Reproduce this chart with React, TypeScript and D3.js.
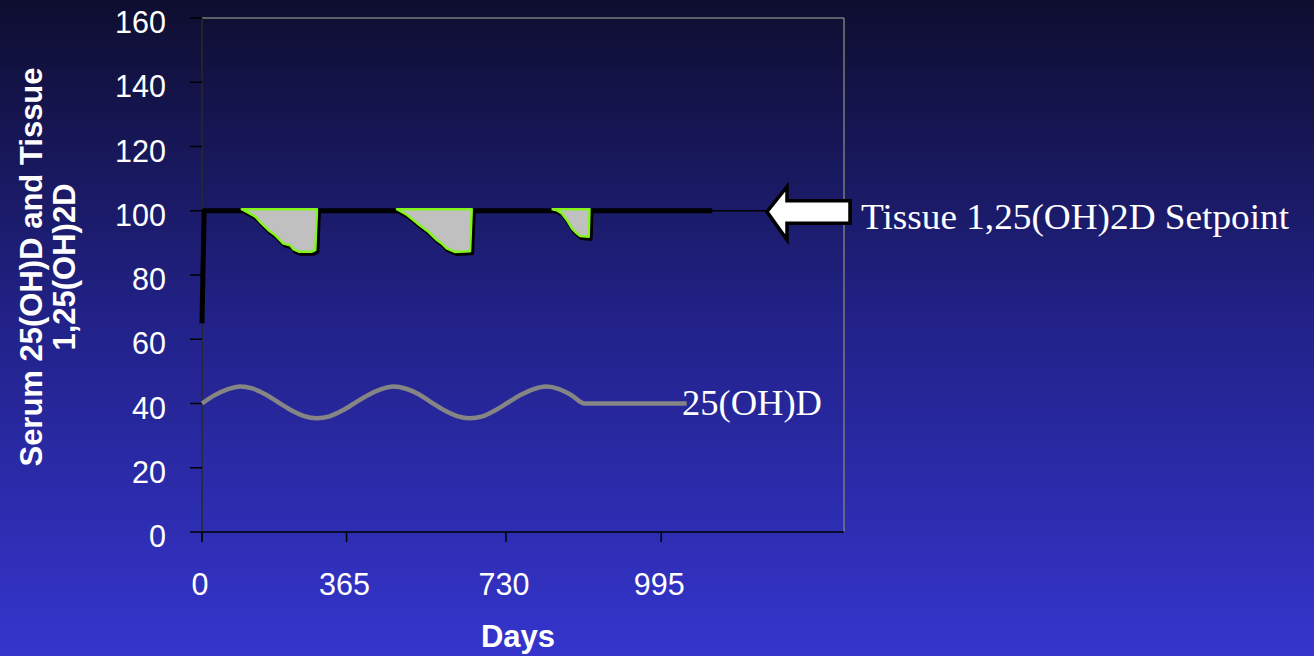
import React from "react";
import * as d3 from "d3";

// Time axis is measured in sampling steps; only some steps carry a day label.
const xTickSteps = [0, 34, 71.5, 108];
const xTickLabels = ["0", "365", "730", "995"];
const yTicks = [0, 20, 40, 60, 80, 100, 120, 140, 160];

// Serum 25(OH)D, seasonal swing then steady
const serumSteps = [0, 3, 6, 9, 12, 15, 18, 21, 24, 27, 30, 33, 36, 39, 42, 45, 48, 51, 54, 57, 60, 63, 66, 69, 72, 75, 78, 81, 84, 87, 90, 114];
const serumValues = [40.0, 42.6, 44.4, 45.3, 44.6, 42.8, 40.3, 37.9, 36.1, 35.4, 36.0, 37.8, 40.2, 42.6, 44.4, 45.3, 44.6, 42.9, 40.3, 37.9, 36.1, 35.4, 36.0, 37.9, 40.3, 42.7, 44.5, 45.3, 44.5, 42.5, 40.0, 40.0];

// Tissue 1,25(OH)2D deficits below the setpoint (step, value)
const dip1: [number, number][] = [
  [9.7, 100], [10.9, 99.2], [12.9, 97.7], [14.0, 96.1], [16.0, 93.5], [17.6, 91.9],
  [19.5, 89.3], [21.1, 88.8], [21.9, 87.5], [23.1, 86.8], [26.2, 86.8], [27.0, 87.3], [27.4, 100],
];
const dip2: [number, number][] = [
  [46.2, 100], [48.6, 98.2], [51.0, 95.6], [53.6, 93.0], [55.6, 90.4], [56.8, 89.3],
  [57.9, 87.8], [59.9, 86.7], [63.4, 86.9], [63.8, 100],
];
const dip3: [number, number][] = [
  [82.8, 100], [83.8, 99.7], [85.0, 98.7], [86.2, 96.6], [87.4, 94.0], [88.5, 92.5],
  [89.3, 91.7], [91.3, 91.4], [91.5, 100],
];
const tissueStart: [number, number][] = [[0, 65], [0.5, 100]];
const tissueEnd: [number, number][] = [[120, 100]];
const setpoint = 100;

const W = 1314;
const H = 656;
const plot = { left: 202, top: 18, right: 844, bottom: 532 };

export default function App() {
  const x = d3.scaleLinear().domain([0, 151]).range([plot.left, plot.right]);
  const y = d3.scaleLinear().domain([0, 160]).range([plot.bottom, plot.top]);

  const tissue = [...tissueStart, ...dip1, ...dip2, ...dip3, ...tissueEnd];
  const tissueLine = d3.line<[number, number]>().x((d) => x(d[0])).y((d) => y(d[1]))(tissue) || "";

  const serum = serumSteps.map((s, i) => [s, serumValues[i]] as [number, number]);
  const serumLine = d3
    .line<[number, number]>()
    .x((d) => x(d[0]))
    .y((d) => y(d[1]))
    .curve(d3.curveMonotoneX)(serum) || "";

  const deficitArea = d3
    .area<[number, number]>()
    .x((d) => x(d[0]))
    .y0(y(setpoint))
    .y1((d) => y(d[1]));

  const sy = y(setpoint);
  const tipX = 767;
  const arrow = [
    [tipX, sy + 1],
    [tipX + 20, sy - 24],
    [tipX + 20, sy - 10],
    [tipX + 83, sy - 10],
    [tipX + 83, sy + 12.5],
    [tipX + 20, sy + 12.5],
    [tipX + 20, sy + 29],
  ];

  const sans = "'Liberation Sans', Arial, sans-serif";
  const serif = "'Liberation Serif', 'Times New Roman', serif";

  return (
    <svg width={W} height={H} style={{ position: "absolute", left: 0, top: 0, display: "block" }}>
      <defs>
        <linearGradient id="bg" x1="0" y1="0" x2="0" y2="1">
          <stop offset="0%" stopColor="#0e0e30" />
          <stop offset="50%" stopColor="#22228a" />
          <stop offset="100%" stopColor="#3535cd" />
        </linearGradient>
      </defs>
      <rect x={0} y={0} width={W} height={H} fill="url(#bg)" />

      {/* frame */}
      <line x1={plot.left} x2={plot.right} y1={plot.top} y2={plot.top} stroke="#7a7a7a" strokeWidth={1.5} />
      <line x1={plot.right} x2={plot.right} y1={plot.top} y2={plot.bottom} stroke="#7a7a7a" strokeWidth={1.5} />

      {/* y axis */}
      <line x1={plot.left} x2={plot.left} y1={plot.top} y2={plot.bottom + 10} stroke="#2a2a2a" strokeWidth={1.5} />
      {yTicks.map((t) => (
        <g key={"y" + t}>
          <line x1={plot.left - 12} x2={plot.left} y1={y(t)} y2={y(t)} stroke="#000" strokeWidth={1.5} />
          <text x={166} y={y(t) + 15} textAnchor="end" fill="#fff" fontFamily={sans} fontSize={30.5}>
            {t}
          </text>
        </g>
      ))}

      {/* x axis */}
      <line x1={plot.left} x2={plot.right} y1={plot.bottom} y2={plot.bottom} stroke="#000" strokeWidth={1.5} />
      {xTickSteps.map((s, i) => (
        <g key={"x" + i}>
          <line x1={x(s)} x2={x(s)} y1={plot.bottom} y2={plot.bottom + 10} stroke="#000" strokeWidth={1.5} />
          <text x={x(s) - 2} y={plot.bottom + 63} textAnchor="middle" fill="#fff" fontFamily={sans} fontSize={30.5}>
            {xTickLabels[i]}
          </text>
        </g>
      ))}

      {/* axis titles */}
      <text x={518} y={647} textAnchor="middle" fill="#fff" fontFamily={sans} fontSize={31} fontWeight="bold">
        Days
      </text>
      <g fontFamily={sans} fontSize={31} fontWeight="bold" fill="#fff" textAnchor="middle">
        <text transform="translate(41.5,267) rotate(-90)">Serum 25(OH)D and Tissue</text>
        <text transform="translate(75,267) rotate(-90)">1,25(OH)2D</text>
      </g>

      {/* setpoint reference */}
      <line x1={plot.left} x2={tipX} y1={sy} y2={sy} stroke="#000" strokeWidth={1.5} />

      {/* serum 25(OH)D */}
      <path d={serumLine} fill="none" stroke="#858585" strokeWidth={4.5} />

      {/* tissue 1,25(OH)2D */}
      <path d={tissueLine} fill="none" stroke="#000" strokeWidth={5} strokeLinejoin="round" />

      {/* deficits below setpoint */}
      {[dip1, dip2, dip3].map((dip, i) => (
        <path
          key={"dip" + i}
          d={deficitArea(dip) || ""}
          transform="translate(-1.5,-1.5)"
          fill="#c0c0c0"
          stroke="#84f51c"
          strokeWidth={2.5}
          strokeLinejoin="round"
        />
      ))}

      {/* arrow and labels */}
      <polygon
        points={arrow.map((p) => p.join(",")).join(" ")}
        fill="#fff"
        stroke="#000"
        strokeWidth={3.5}
        strokeLinejoin="miter"
      />
      <text x={861} y={229} fill="#fff" fontFamily={serif} fontSize={36} textLength={428} lengthAdjust="spacingAndGlyphs">
        Tissue 1,25(OH)2D Setpoint
      </text>
      <text x={682} y={415} fill="#fff" fontFamily={serif} fontSize={35} textLength={140} lengthAdjust="spacingAndGlyphs">
        25(OH)D
      </text>
    </svg>
  );
}
